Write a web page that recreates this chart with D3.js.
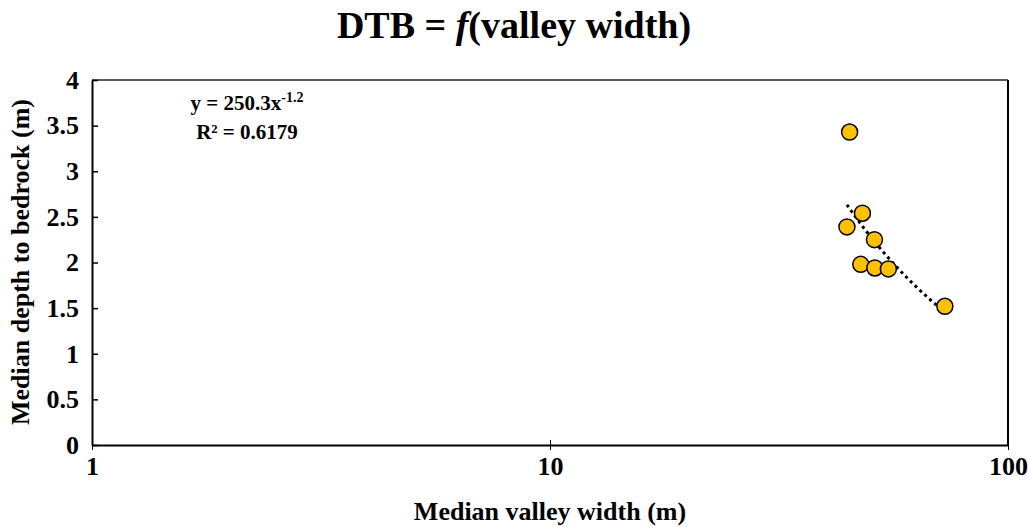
<!DOCTYPE html>
<html>
<head>
<meta charset="utf-8">
<script src="https://cdn.jsdelivr.net/npm/d3@7"></script>
<style>
    body { margin: 0; background: #fff; }
</style>
</head>
<body>
<div id="chart"></div>
<script>
'use strict';

// valley width (m) vs. median depth to bedrock (m)
const valleyWidth = [45.1, 48.1, 44.5, 51.1, 47.7, 51.2, 54.8, 72.8];
const depthToBedrock = [3.43, 2.54, 2.39, 2.25, 1.98, 1.94, 1.93, 1.52];

const xTicks = [1, 10, 100];
const yTicks = [0, 0.5, 1, 1.5, 2, 2.5, 3, 3.5, 4];

// power trendline y = a * x^b
const trendA = 250.3;
const trendB = -1.2;
const trendLabel = ['y = 250.3x', '-1.2'];
const r2Label = 'R² = 0.6179';

const FONT = '"Liberation Serif", "Times New Roman", serif';

const width = 1028, height = 527;
const margin = {top: 80, right: 20, bottom: 82, left: 92};

let svg = d3.select('#chart').append('svg')
    .attr('width', width)
    .attr('height', height);

let x = d3.scaleLog()
    .domain([1, 100])
    .range([margin.left, width - margin.right]);

let y = d3.scaleLinear()
    .domain([0, 4])
    .range([height - margin.bottom, margin.top]);

function label(sel, size) {
    return sel
        .attr('font-family', null)
        .attr('font-size', null)
        .style('font-family', FONT)
        .style('font-weight', 'bold')
        .style('font-size', size + 'px')
        .style('fill', '#000');
}

// frame
svg.append('line')
    .attr('x1', x(1)).attr('x2', x(100))
    .attr('y1', y(4)).attr('y2', y(4))
    .style('stroke', '#222').style('stroke-width', 1.5);
svg.append('line')
    .attr('x1', x(100)).attr('x2', x(100))
    .attr('y1', y(4)).attr('y2', y(0))
    .style('stroke', '#000').style('stroke-width', 2);

// axes
let xAxis = svg.append('g')
    .attr('transform', 'translate(0,' + y(0) + ')')
    .call(d3.axisBottom(x).tickValues(xTicks).tickFormat(d3.format('d')).tickSize(5).tickSizeOuter(0));
xAxis.attr('font-size', null).attr('font-family', null);
xAxis.select('.domain').style('stroke-width', 2);
xAxis.selectAll('.tick line').attr('y1', -5).style('stroke-width', 1);
label(xAxis.selectAll('.tick text'), 26).attr('y', 12);

let yAxis = svg.append('g')
    .attr('transform', 'translate(' + x(1) + ',0)')
    .call(d3.axisLeft(y).tickValues(yTicks).tickFormat(d3.format('')).tickSize(6).tickSizeOuter(0));
yAxis.attr('font-size', null).attr('font-family', null);
yAxis.select('.domain').style('stroke-width', 2);
yAxis.selectAll('.tick line').attr('x2', 6).style('stroke-width', 1.5);
label(yAxis.selectAll('.tick text'), 26).attr('x', -13);

// trendline
let xs = d3.extent(valleyWidth);
let trendPts = d3.range(0, 41).map(function (i) {
    let xv = xs[0] * Math.pow(xs[1] / xs[0], i / 40);
    return [xv, trendA * Math.pow(xv, trendB)];
});
svg.append('path')
    .datum(trendPts)
    .attr('d', d3.line()
        .x(function (d) { return x(d[0]); })
        .y(function (d) { return y(d[1]); }))
    .style('fill', 'none')
    .style('stroke', '#000')
    .style('stroke-width', 3)
    .style('stroke-dasharray', '3,3.6');

// points
svg.selectAll('.pt')
    .data(valleyWidth)
    .enter().append('circle')
    .attr('class', 'pt')
    .attr('cx', function (d) { return x(d); })
    .attr('cy', function (d, i) { return y(depthToBedrock[i]); })
    .attr('r', 8)
    .style('fill', '#FFC000')
    .style('stroke', '#000')
    .style('stroke-width', 1.5);

// trendline labels
let eq = label(svg.append('text'), 21)
    .attr('x', 247).attr('y', 110)
    .style('text-anchor', 'middle');
eq.append('tspan').text(trendLabel[0]);
eq.append('tspan').text(trendLabel[1])
    .attr('dy', -8)
    .style('font-size', '14px');

label(svg.append('text'), 21)
    .text(r2Label)
    .attr('x', 247).attr('y', 139)
    .style('text-anchor', 'middle');

// title
let title = label(svg.append('text'), 38)
    .attr('x', 514).attr('y', 38)
    .style('text-anchor', 'middle');
title.append('tspan').text('DTB = ');
title.append('tspan').text('f').style('font-style', 'italic');
title.append('tspan').text('(valley width)');

// axis titles
label(svg.append('text'), 26)
    .text('Median valley width (m)')
    .attr('x', x(10)).attr('y', 520)
    .style('text-anchor', 'middle');

label(svg.append('text'), 26)
    .text('Median depth to bedrock (m)')
    .attr('transform', 'translate(29,' + 262 + ') rotate(-90)')
    .style('text-anchor', 'middle');
</script>
</body>
</html>
